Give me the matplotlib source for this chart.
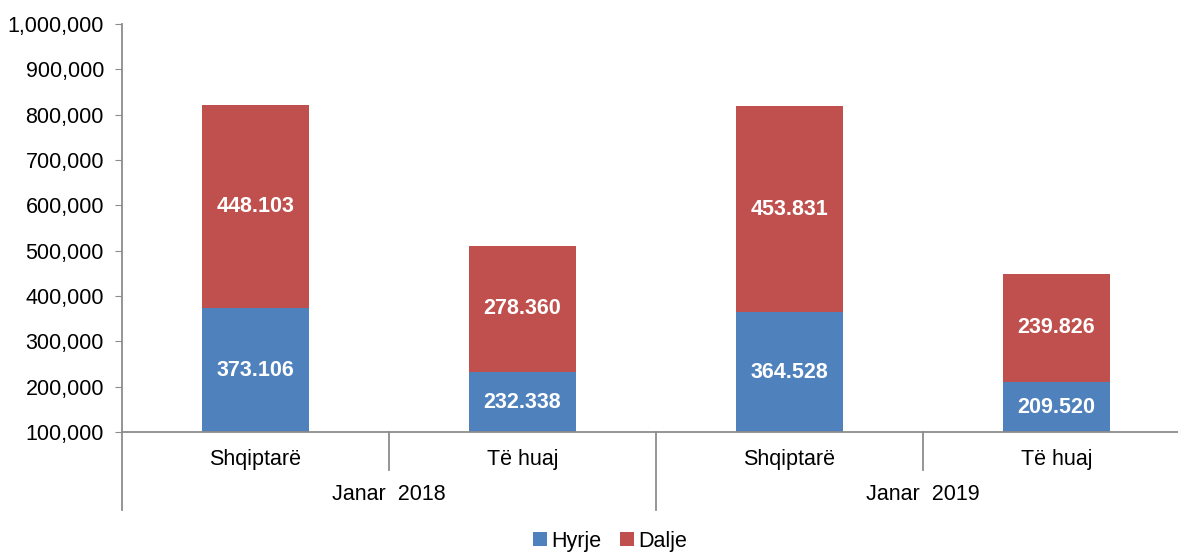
import matplotlib.pyplot as plt
import matplotlib.transforms as mtransforms
import numpy as np

plt.rcParams['font.family'] = ['Liberation Sans', 'DejaVu Sans']

# data
categories = ['Shqiptarë', 'Të huaj', 'Shqiptarë', 'Të huaj']
groups = ['Janar  2018', 'Janar  2019']
hyrje = [373106, 232338, 364528, 209520]
dalje = [448103, 278360, 453831, 239826]

blue = '#4F81BD'
red = '#C0504D'
grey = '#8C8C8C'
fs = 15.5

fig = plt.figure(figsize=(11.78, 5.52), dpi=100)
# axis runs a bit past the right edge, like the original
ax = fig.add_axes([122 / 1178, 1 - 432 / 552, 1068 / 1178, 408 / 552])

x = np.arange(len(categories))
w = 0.4
b1 = ax.bar(x, hyrje, w, color=blue, label='Hyrje')
b2 = ax.bar(x, dalje, w, bottom=hyrje, color=red, label='Dalje')

def fmt(v):
    return f'{v:,}'.replace(',', '.')

for i in range(len(x)):
    ax.text(x[i], 100000 + (hyrje[i] - 100000) / 2, fmt(hyrje[i]), ha='center', va='center',
            color='white', fontsize=fs, fontweight='bold')
    ax.text(x[i], hyrje[i] + dalje[i] / 2, fmt(dalje[i]), ha='center', va='center',
            color='white', fontsize=fs, fontweight='bold')

ax.set_xlim(-0.5, len(x) - 0.5)
ax.set_ylim(100000, 1000000)
ax.set_yticks(np.arange(100000, 1000001, 100000))
ax.set_yticklabels([f'{v:,}' for v in range(100000, 1000001, 100000)])
ax.tick_params(axis='y', length=5, color=grey, labelsize=fs, pad=8)
ax.set_xticks([])

for s in ['top', 'right']:
    ax.spines[s].set_visible(False)
for s in ['left', 'bottom']:
    ax.spines[s].set_color(grey)
    ax.spines[s].set_linewidth(1.3)

# category and group labels below the axis
trans = mtransforms.blended_transform_factory(ax.transData, ax.transAxes)
ax_h = 408
for i, c in enumerate(categories):
    ax.text(x[i], -27 / ax_h, c, transform=trans, ha='center', va='center', fontsize=fs)
for g, name in enumerate(groups):
    ax.text(2 * g + 0.5, -63 / ax_h, name, transform=trans, ha='center', va='center', fontsize=fs)

# separators
for i in range(len(x) + 1):
    pos = i - 0.5
    depth = 78 if i % 2 == 0 else 38
    ax.plot([pos, pos], [0, -depth / ax_h], transform=trans, color=grey, lw=1.3, clip_on=False)

fig.legend(handles=[b1, b2], loc='center', bbox_to_anchor=(610 / 1178, 1 - 541 / 552),
           ncol=2, frameon=False, fontsize=fs, handlelength=0.65, handleheight=0.65,
           handletextpad=0.2, columnspacing=0.9)

fig.savefig('out.png', dpi=100)
